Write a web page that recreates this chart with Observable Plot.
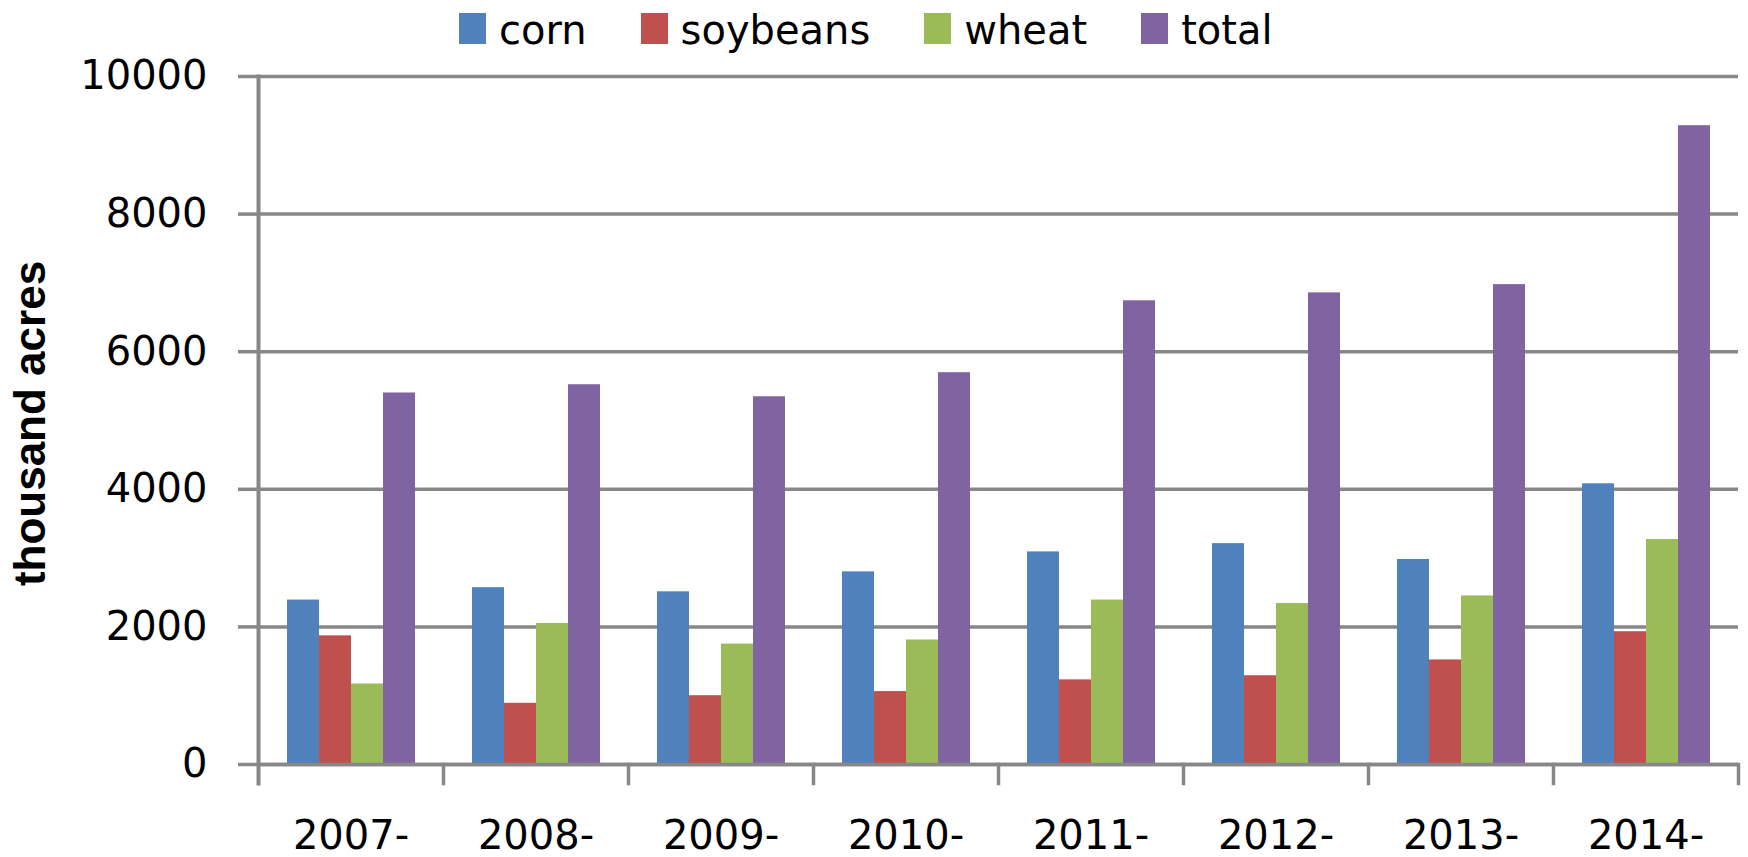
<!DOCTYPE html>
<html>
<head>
<meta charset="utf-8">
<script src="https://cdn.jsdelivr.net/npm/d3@7"></script>
<script src="https://cdn.jsdelivr.net/npm/@observablehq/plot@0.6"></script>
<style>
  html, body { margin: 0; padding: 0; background: #fff; }
  body { width: 1748px; height: 857px; overflow: hidden; font-family: "DejaVu Sans", sans-serif; }
  #legend { height: 56px; box-sizing: border-box; padding-left: 459px; padding-top: 10px; white-space: nowrap; font-size: 40px; line-height: 40px; color: #000; }
  #legend .item { display: inline-block; margin-right: 54px; }
  #legend .sw { display: inline-block; width: 27px; height: 31px; margin-right: 13px; vertical-align: baseline; }
  svg { display: block; }
</style>
</head>
<body>
<div id="legend"></div>
<div id="chart"></div>
<script>
// ---- data ----
const years = ["2007-", "2008-", "2009-", "2010-", "2011-", "2012-", "2013-", "2014-"];
const series = ["corn", "soybeans", "wheat", "total"];
const colors = ["#4F81BD", "#C0504D", "#9BBB59", "#8064A2"];
const corn = [2390, 2570, 2510, 2800, 3090, 3210, 2980, 4080];
const soybeans = [1870, 890, 1000, 1060, 1230, 1290, 1520, 1930];
const wheat = [1170, 2050, 1750, 1810, 2390, 2340, 2450, 3270];
const total = [5400, 5520, 5345, 5695, 6740, 6855, 6975, 9285];
const yTicks = [0, 2000, 4000, 6000, 8000, 10000];
const yTitle = "thousand acres";

// ---- table ----
const bySeries = {corn, soybeans, wheat, total};
const rows = years.flatMap((yr, i) => series.map(s => ({year: yr, series: s, value: bySeries[s][i]})));

// ---- legend ----
const legend = d3.select("#legend");
series.forEach((s, i) => {
  const it = legend.append("span").attr("class", "item");
  it.append("span").attr("class", "sw").style("background", colors[i]);
  it.append("span").text(s);
});

// ---- chart ----
const W = 1748, H = 801, MT = 20, MB = 93, ML = 254, MR = 7;
const plotH = H - MT - MB;
const gray = "#878787";

const chart = Plot.plot({
  width: W, height: H,
  marginTop: MT, marginBottom: MB, marginLeft: ML, marginRight: MR,
  style: {fontFamily: "DejaVu Sans, sans-serif", fontSize: "40px", color: "#000", background: "#fff", overflow: "visible"},
  fx: {domain: years, padding: 0, label: null},
  x: {domain: series, paddingInner: 0, paddingOuter: 0.815, axis: null},
  y: {domain: [0, 10000]},
  color: {domain: series, range: colors},
  marks: [
    Plot.gridY(yTicks, {stroke: gray, strokeOpacity: 1, strokeWidth: 3.5}),
    Plot.barY(rows, {fx: "year", x: "series", y: "value", fill: "series"}),
    Plot.ruleY([0], {stroke: gray, strokeWidth: 3.5}),
    Plot.frame({anchor: "left", facetAnchor: "left", stroke: gray, strokeWidth: 4, insetBottom: -19}),
    Plot.frame({anchor: "right", stroke: gray, strokeWidth: 3.5, insetTop: plotH, insetBottom: -19}),
    Plot.axisY(yTicks, {anchor: "left", tickSize: 20, tickPadding: 31, tickFormat: d => String(d), stroke: gray, strokeWidth: 3.5, fill: "#000", fontSize: 40, label: null}),
    Plot.axisFx({anchor: "bottom", tickSize: 0, tickPadding: 56, fontSize: 40, fill: "#000", label: null}),
    Plot.text([yTitle], {frameAnchor: "left", facetAnchor: "left", textAnchor: "middle", rotate: -90, dx: -228, dy: 3,
      fontFamily: "Liberation Sans, sans-serif", fontWeight: "bold", fontSize: 44, fill: "#000", text: d => d})
  ]
});
document.getElementById("chart").appendChild(chart);
</script>
</body>
</html>
